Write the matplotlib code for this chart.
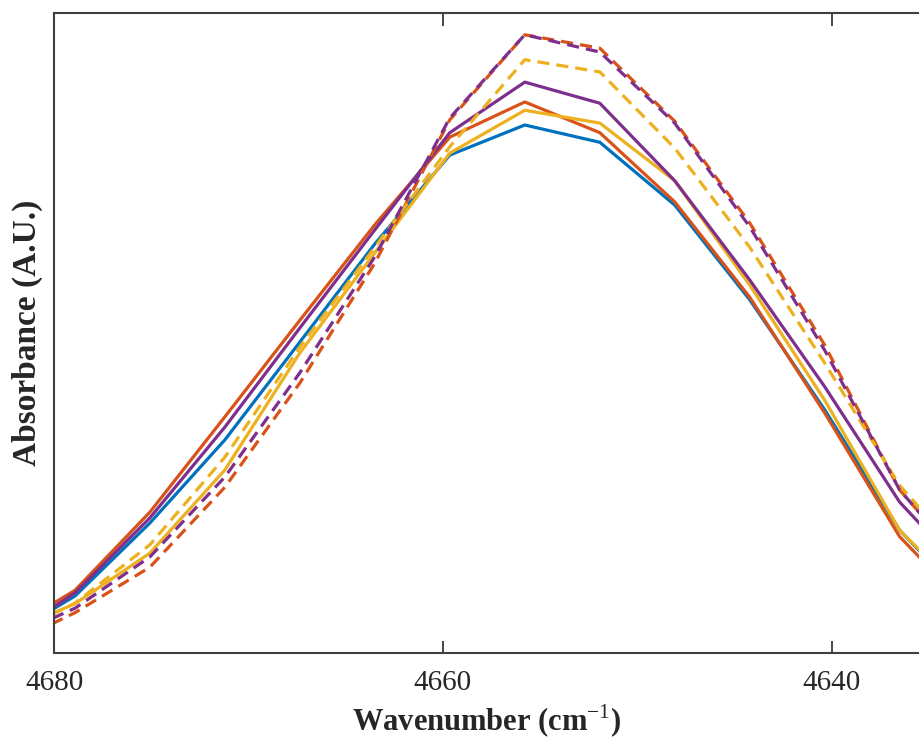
import numpy as np
import matplotlib
matplotlib.use("Agg")
from matplotlib import pyplot as plt

# wavenumber grid (cm^-1), ~3.86 cm^-1 spacing
wavenumber = [4682.78, 4678.92, 4675.07, 4671.21, 4667.35, 4663.50, 4659.64,
              4655.78, 4651.92, 4648.07, 4644.21, 4640.35, 4636.50, 4632.64]

# absorbance (A.U.)
blue_solid = [0.019, 0.089, 0.203, 0.333, 0.486, 0.639, 0.778, 0.825, 0.798, 0.700, 0.552, 0.380, 0.192, 0.070]
orange_solid = [0.027, 0.098, 0.220, 0.369, 0.520, 0.669, 0.806, 0.861, 0.813, 0.705, 0.556, 0.375, 0.182, 0.060]
yellow_solid = [0.027, 0.077, 0.156, 0.286, 0.469, 0.625, 0.781, 0.848, 0.828, 0.738, 0.575, 0.395, 0.192, 0.075]
purple_solid = [0.016, 0.094, 0.211, 0.353, 0.508, 0.661, 0.813, 0.892, 0.859, 0.738, 0.583, 0.416, 0.236, 0.110]
orange_dash = [0.006, 0.063, 0.134, 0.259, 0.422, 0.609, 0.833, 0.966, 0.945, 0.831, 0.672, 0.481, 0.255, 0.120]
yellow_dash = [0.020, 0.078, 0.169, 0.306, 0.478, 0.634, 0.791, 0.927, 0.908, 0.789, 0.634, 0.453, 0.262, 0.130]
purple_dash = [0.017, 0.070, 0.150, 0.275, 0.438, 0.619, 0.836, 0.966, 0.939, 0.828, 0.666, 0.473, 0.255, 0.120]

BLUE = (0, 0.447, 0.741)
ORANGE = (0.85, 0.325, 0.098)
YELLOW = (0.929, 0.694, 0.125)
PURPLE = (0.494, 0.184, 0.556)

plt.rcParams['font.family'] = ['Liberation Serif', 'DejaVu Serif']
plt.rcParams['mathtext.fontset'] = 'custom'
plt.rcParams['mathtext.rm'] = 'Liberation Serif'

fig = plt.figure(figsize=(9.19, 7.40), dpi=100)
ax = fig.add_axes([54 / 919, 87 / 740, 1 - 54 / 919, 640 / 740])

lw = 2.3
dash = (0, (3.8, 2.2))
ax.plot(wavenumber, blue_solid, color=BLUE, lw=lw)
ax.plot(wavenumber, orange_solid, color=ORANGE, lw=lw)
ax.plot(wavenumber, yellow_solid, color=YELLOW, lw=lw)
ax.plot(wavenumber, purple_solid, color=PURPLE, lw=lw)
ax.plot(wavenumber, orange_dash, color=ORANGE, lw=lw, ls=dash)
ax.plot(wavenumber, yellow_dash, color=YELLOW, lw=lw, ls=dash)
ax.plot(wavenumber, purple_dash, color=PURPLE, lw=lw, ls=dash)

ax.set_xlim(4680, 4635.5)
ax.set_ylim(0, 1)
ax.set_xticks([4680, 4660, 4640])
ax.set_yticks([])
ax.tick_params(axis='x', direction='in', length=9, width=1.2, colors='#262626',
               labelsize=21, pad=12, top=True)
for s in ['left', 'top', 'bottom']:
    ax.spines[s].set_color('#404040')
    ax.spines[s].set_linewidth(1.5)
ax.spines['right'].set_visible(False)

ax.set_xlabel('Wavenumber (cm$^{\\mathrm{-1}}$)', fontsize=22, fontweight='bold',
              color='#262626', labelpad=5)
ax.set_ylabel('Absorbance (A.U.)', fontsize=24, fontweight='bold',
              color='#262626', labelpad=8)

fig.savefig('out.png', dpi=100)
